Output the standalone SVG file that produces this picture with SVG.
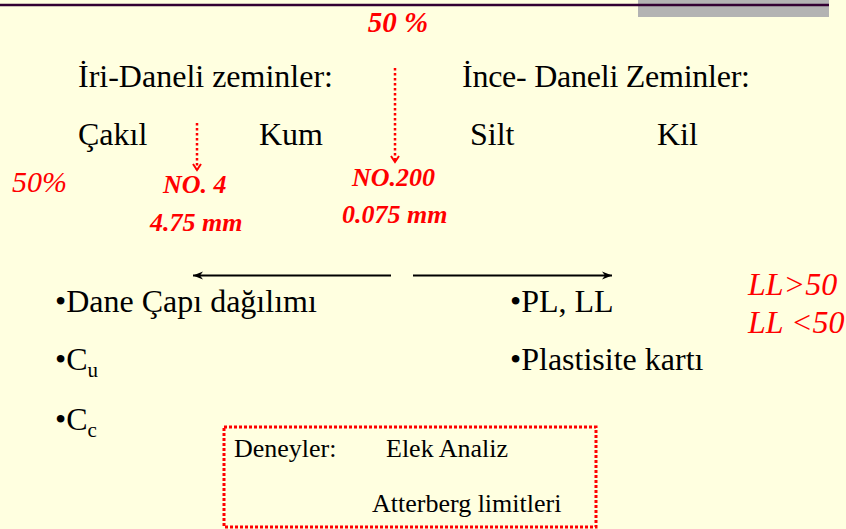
<svg xmlns="http://www.w3.org/2000/svg" width="846" height="529" viewBox="0 0 846 529">
<style>
.dot{stroke:#ff0000;stroke-width:2.5;stroke-dasharray:2.5,2.5;fill:none}
.ar{stroke:#000;stroke-width:2;fill:none}
</style>
<defs>
<marker id="rh" markerWidth="10" markerHeight="10" refX="5" refY="8" orient="0" markerUnits="userSpaceOnUse">
<path d="M1,2 L5,8 L9,2" fill="none" stroke="#ff0000" stroke-width="2"/>
</marker>
<marker id="bh" markerWidth="12" markerHeight="10" refX="11" refY="5" orient="auto" markerUnits="userSpaceOnUse">
<path d="M1,1 L11,5 L1,9 L4,5 Z" fill="#000"/>
</marker>
</defs>
<rect width="846" height="529" fill="#ffffe0"/>
<rect x="638" y="0" width="191" height="17" fill="#b3b3b3"/>
<line x1="0" y1="5" x2="829" y2="5" stroke="#330033" stroke-width="2.5"/>
<g id="top50"><text font-family="Liberation Serif" font-size="29" font-weight="bold" font-style="italic" fill="#ff0000" x="398" y="32" text-anchor="middle">50 %</text></g>
<g id="iri"><text font-family="Liberation Serif" font-size="32" x="78" y="87">İri-Daneli zeminler:</text></g>
<g id="ince"><text font-family="Liberation Serif" font-size="32" x="462" y="87" textLength="288">İnce- Daneli Zeminler:</text></g>
<g id="cakil"><text font-family="Liberation Serif" font-size="32" x="78" y="145">Çakıl</text></g>
<g id="kum"><text font-family="Liberation Serif" font-size="32" x="259" y="145">Kum</text></g>
<g id="silt"><text font-family="Liberation Serif" font-size="32" x="470" y="145">Silt</text></g>
<g id="kil"><text font-family="Liberation Serif" font-size="32" x="657" y="145">Kil</text></g>
<g id="p50"><text font-family="Liberation Serif" font-size="30" font-style="italic" fill="#ff0000" x="12" y="192">50%</text></g>
<g id="no4"><text font-family="Liberation Serif" font-size="26" font-weight="bold" font-style="italic" fill="#ff0000" x="163" y="193">NO. 4</text><text font-family="Liberation Serif" font-size="26" font-weight="bold" font-style="italic" fill="#ff0000" x="150" y="231">4.75 mm</text></g>
<g id="no200"><text font-family="Liberation Serif" font-size="26" font-weight="bold" font-style="italic" fill="#ff0000" x="352" y="186">NO.200</text><text font-family="Liberation Serif" font-size="26" font-weight="bold" font-style="italic" fill="#ff0000" x="342" y="223">0.075 mm</text></g>
<g id="left"><text font-family="Liberation Serif" font-size="32" x="55" y="312">•Dane Çapı dağılımı</text>
<text font-family="Liberation Serif" font-size="32" x="55" y="370">•C<tspan font-size="21" dy="7">u</tspan></text>
<text font-family="Liberation Serif" font-size="32" x="55" y="430">•C<tspan font-size="21" dy="7">c</tspan></text></g>
<g id="right"><text font-family="Liberation Serif" font-size="32" x="510" y="312">•PL, LL</text><text font-family="Liberation Serif" font-size="32" x="510" y="370">•Plastisite kartı</text></g>
<g id="ll"><text font-family="Liberation Serif" font-size="32" font-style="italic" fill="#ff0000" x="748" y="295">LL&gt;50</text><text font-family="Liberation Serif" font-size="32" font-style="italic" fill="#ff0000" x="748" y="333">LL &lt;50</text></g>
<g id="deneyler">
<rect x="224" y="427" width="372" height="100" fill="none" stroke="#ff0000" stroke-width="3" stroke-dasharray="3,2"/>
<text font-family="Liberation Serif" font-size="26" x="234" y="457">Deneyler:</text>
<text font-family="Liberation Serif" font-size="26" x="386" y="457">Elek Analiz</text>
<text font-family="Liberation Serif" font-size="26" x="372" y="512">Atterberg limitleri</text>
</g>
<g id="connectors">
<line class="dot" x1="197" y1="123" x2="197" y2="170" marker-end="url(#rh)"/>
<line class="dot" x1="395" y1="68" x2="395" y2="162" marker-end="url(#rh)"/>
<line class="ar" x1="391" y1="275.5" x2="193" y2="275.5" marker-end="url(#bh)"/>
<line class="ar" x1="413" y1="275.5" x2="612" y2="275.5" marker-end="url(#bh)"/>
</g>
</svg>
